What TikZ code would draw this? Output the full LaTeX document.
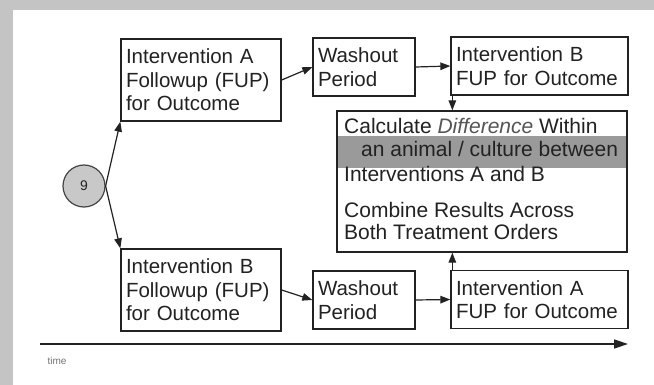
\documentclass[tikz,border=0pt]{standalone}
\usepackage{fontspec}
\setmainfont{Liberation Sans}
\usetikzlibrary{arrows.meta,backgrounds}
\definecolor{bggray}{HTML}{C4C4C4}
\definecolor{bandgray}{HTML}{9A9A9A}
\definecolor{linec}{HTML}{222222}
\definecolor{circfill}{HTML}{C8C8C8}
\definecolor{diffgray}{HTML}{555555}
\begin{document}
\begin{tikzpicture}[x=1pt,y=-1pt,
  box/.style={draw=linec, line width=1.3pt, rectangle, inner xsep=5pt, inner ysep=0pt,
    align=left, font=\fontsize{20.5}{23.5}\selectfont, text=linec},
  calctext/.style={anchor=base west, inner sep=0pt, font=\fontsize{21}{23.5}\selectfont, text=linec},
  arr/.style={-{Triangle[length=10pt,width=7.5pt]}, line width=1.2pt, draw=linec},
  timearr/.style={-{Triangle[length=14pt,width=9pt]}, line width=1.5pt, draw=linec}]
\useasboundingbox (0,0) rectangle (654,385);

% top row
\node[box, text width=150pt, minimum height=82pt] (a1) at (201,80) {Intervention A\\Followup (FUP)\\for Outcome};
\node[box, text width=92pt, minimum height=58pt] (w1) at (364,67) {Washout\\Period};
\node[box, text width=167pt, minimum height=58pt] (ib1) at (539.5,66) {Intervention B\\FUP for Outcome};

% bottom row
\node[box, text width=150pt, minimum height=82pt] (b1) at (201,290) {Intervention B\\Followup (FUP)\\for Outcome};
\node[box, text width=92pt, minimum height=58pt] (w2) at (364,300) {Washout\\Period};
\node[box, text width=167pt, minimum height=58pt] (ia2) at (539.5,299.5) {Intervention A\\FUP for Outcome};

% calc box
\node[draw=linec, line width=1.3pt, rectangle, inner sep=0pt, minimum width=290pt, minimum height=141pt] (calc) at (482,181.5) {};
\begin{pgfonlayer}{background}
  \fill[bggray] (0,0) rectangle (654,385);
  \fill[white] (13,10) rectangle (654,385);
  \fill[bandgray] (calc.west |- 0,136) rectangle (calc.east |- 0,168);
\end{pgfonlayer}
\node[calctext] (c1) at (344,134) {Calculate \textit{\textcolor{diffgray}{Difference}} Within};
\node[calctext] (c2) at (361,157) {an animal / culture between};
\node[calctext] (c3) at (344,182) {Interventions A and B};
\node[calctext] (c4) at (344,218) {Combine Results Across};
\node[calctext] (c5) at (344,240) {Both Treatment Orders};

% circle
\node[circle, draw=linec!85, line width=1.2pt, fill=circfill, minimum size=42pt, inner sep=0pt,
  font=\fontsize{14}{16}\selectfont, text=linec] (nine) at (84,186) {9};

% connectors
\draw[arr] (nine.east) -- (a1.south west);
\draw[arr] (nine.east) -- (b1.north west);
\draw[arr] (a1.east) -- (w1.west);
\draw[arr] (w1.east) -- (ib1.west);
\draw[arr] ([xshift=2pt]ib1.south west) -- ([xshift=2pt]ib1.south west |- calc.north);
\draw[arr] (b1.east) -- (w2.west);
\draw[arr] (w2.east) -- (ia2.west);
\draw[arr] ([xshift=2pt]ia2.north west) -- ([xshift=2pt]ia2.north west |- calc.south);

% time axis
\coordinate (tstart) at (40,344);
\coordinate (tend) at (628,344);
\draw[timearr] (tstart) -- (tend);
\node[font=\fontsize{10}{12}\selectfont, text=black!55, inner sep=0pt] (timelbl) at (57,361) {time};
\end{tikzpicture}
\end{document}
